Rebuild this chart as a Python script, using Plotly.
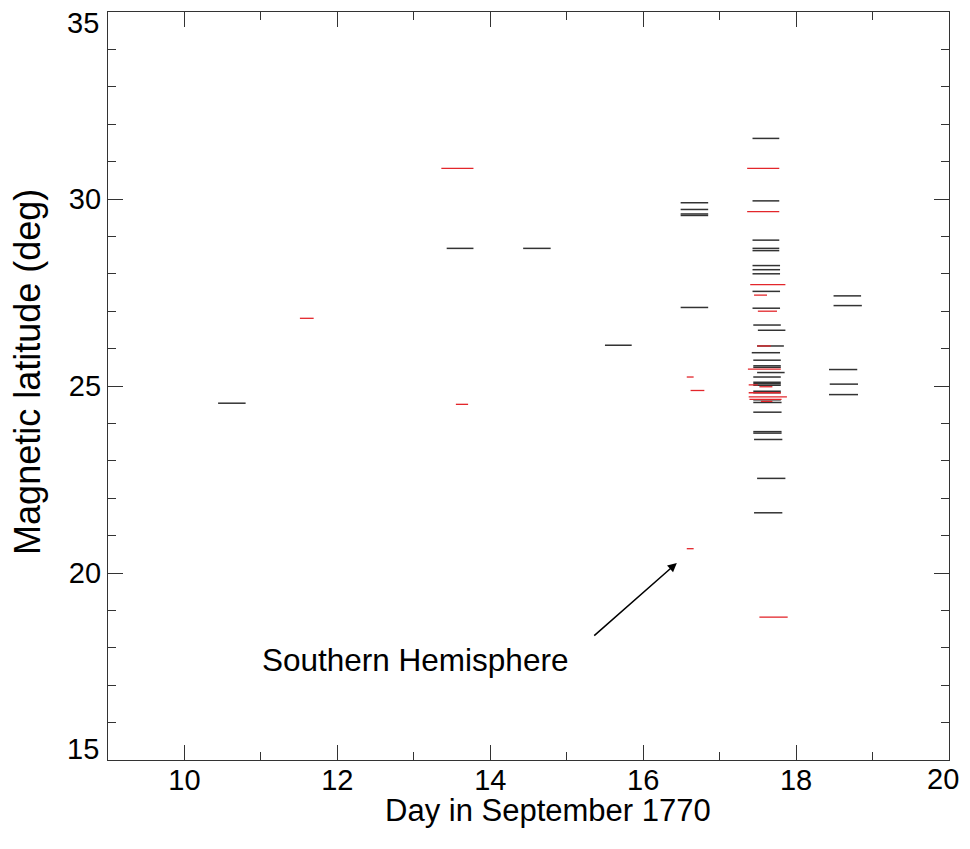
import plotly.graph_objects as go

# Northern hemisphere (black) observations: start day, end day, magnetic latitude
black_start = [10.44, 13.43, 14.43, 15.50, 16.49, 16.49, 16.49, 16.49, 16.49,
               17.43, 17.43, 17.43, 17.43, 17.43, 17.43, 17.43, 17.43, 17.43,
               17.43, 17.44, 17.50, 17.49, 17.42, 17.44, 17.44, 17.44, 17.49,
               17.44, 17.44, 17.44, 17.44, 17.44, 17.44, 17.44, 17.44, 17.44,
               17.44, 17.44, 17.45, 17.49, 17.45, 18.49, 18.49, 18.43, 18.44,
               18.43]
black_end = [10.80, 13.78, 14.79, 15.85, 16.85, 16.85, 16.85, 16.85, 16.85,
             17.78, 17.78, 17.78, 17.78, 17.78, 17.79, 17.79, 17.79, 17.79,
             17.79, 17.80, 17.86, 17.84, 17.79, 17.80, 17.80, 17.80, 17.85,
             17.80, 17.80, 17.80, 17.80, 17.80, 17.80, 17.80, 17.81, 17.81,
             17.81, 17.81, 17.82, 17.86, 17.82, 18.85, 18.86, 18.80, 18.81,
             18.81]
black_lat = [24.54, 28.68, 28.68, 26.09, 29.90, 29.72, 29.60, 29.56, 27.10,
             31.62, 29.95, 28.90, 28.68, 28.62, 28.22, 28.11, 28.00, 27.53,
             27.08, 26.63, 26.49, 26.07, 25.89, 25.69, 25.54, 25.50, 25.36,
             25.24, 25.10, 25.06, 25.02, 24.86, 24.82, 24.63, 24.56, 24.30,
             23.78, 23.74, 23.57, 22.53, 21.61, 27.41, 27.15, 25.44, 25.05,
             24.77]

# Southern hemisphere (red) observations
red_start = [11.51, 13.36, 13.55, 16.57, 16.62, 16.57, 17.36, 17.36, 17.40,
             17.45, 17.50, 17.49, 17.37, 17.38, 17.52, 17.38, 17.38, 17.39,
             17.54, 17.52]
red_end = [11.69, 13.78, 13.71, 16.66, 16.80, 16.66, 17.78, 17.78, 17.86,
           17.62, 17.75, 17.67, 17.80, 17.50, 17.69, 17.80, 17.88, 17.81,
           17.69, 17.89]
red_lat = [26.81, 30.82, 24.51, 25.24, 24.88, 20.65, 30.82, 29.66, 27.71,
           27.43, 27.00, 26.07, 25.45, 25.03, 24.98, 24.82, 24.71, 24.64,
           24.59, 18.82]

# axis ticks
x_tickvals = [10, 12, 14, 16, 18]
x_end_label = "20"          # last x label is kept inside the page edge
y_tickvals = [20, 25, 30]   # end labels (15, 35) are placed inside the frame
y_end_labels = ["15", "35"]


def segments(start, end, lat):
    xs, ys = [], []
    for s, e, v in zip(start, end, lat):
        xs += [s, e, None]
        ys += [v, v, None]
    return xs, ys


fig = go.Figure()

bx, by = segments(black_start, black_end, black_lat)
fig.add_trace(go.Scatter(x=bx, y=by, mode="lines",
                         line=dict(color="#333333", width=1.5),
                         name="Northern", hoverinfo="skip"))

rx, ry = segments(red_start, red_end, red_lat)
fig.add_trace(go.Scatter(x=rx, y=ry, mode="lines",
                         line=dict(color="#e3262b", width=1.3),
                         name="Southern", hoverinfo="skip"))

# Annotation: text and arrow
fig.add_annotation(x=13.01, y=17.67, text="Southern Hemisphere",
                   showarrow=False, font=dict(size=31.5, color="black"))
fig.add_annotation(x=16.44, y=20.27, ax=15.34, ay=18.29,
                   axref="x", ayref="y", text="",
                   showarrow=True, arrowhead=2, arrowsize=1.2,
                   arrowwidth=1.5, arrowcolor="black")

# Axis titles
fig.add_annotation(xref="paper", yref="paper", x=0.5226, y=-0.068,
                   xanchor="center", yanchor="middle",
                   text="Day in September 1770", showarrow=False,
                   font=dict(size=31, color="black"))
fig.add_annotation(xref="paper", yref="paper", x=-0.095, y=0.519,
                   xanchor="center", yanchor="middle",
                   text="Magnetic latitude (deg)", textangle=-90,
                   showarrow=False, font=dict(size=36, color="black"))

# end tick labels
fig.add_annotation(xref="paper", yref="paper", x=0, y=0.0147,
                   xanchor="right", yanchor="middle", xshift=-7,
                   text=y_end_labels[0],
                   showarrow=False, font=dict(size=29, color="black"))
fig.add_annotation(xref="paper", yref="paper", x=0, y=0.985,
                   xanchor="right", yanchor="middle", xshift=-7,
                   text=y_end_labels[1],
                   showarrow=False, font=dict(size=29, color="black"))
fig.add_annotation(xref="paper", yref="paper", x=1, y=-0.0257,
                   xanchor="right", yanchor="middle", xshift=12,
                   text=x_end_label,
                   showarrow=False, font=dict(size=29, color="black"))

axis_common = dict(
    showline=True, linecolor="#333333", linewidth=1.3,
    mirror="allticks", showgrid=False, zeroline=False, automargin=False,
    ticks="inside", ticklen=15, tickwidth=1.3, tickcolor="#333333",
    tickfont=dict(size=29, color="black"),
)

fig.update_xaxes(
    range=[9, 20], tickvals=x_tickvals, ticklabelstandoff=-6,
    minor=dict(dtick=1, tick0=9, ticks="inside", ticklen=8,
               tickwidth=1.3, tickcolor="#333333", showgrid=False),
    **axis_common
)
fig.update_yaxes(
    range=[15, 35], tickvals=y_tickvals,
    minor=dict(dtick=1, tick0=15, ticks="inside", ticklen=8,
               tickwidth=1.3, tickcolor="#333333", showgrid=False),
    **axis_common
)

# the page body adds an 8 px offset, so the figure is kept smaller
# to avoid scrollbars in the 970x849 window
fig.update_layout(
    width=962, height=833,
    margin=dict(l=100, r=21, t=4, b=81),
    plot_bgcolor="white", paper_bgcolor="white",
    font=dict(family="Liberation Sans, Arial, sans-serif", color="black"),
    showlegend=False,
)

fig.write_html("out.html")
